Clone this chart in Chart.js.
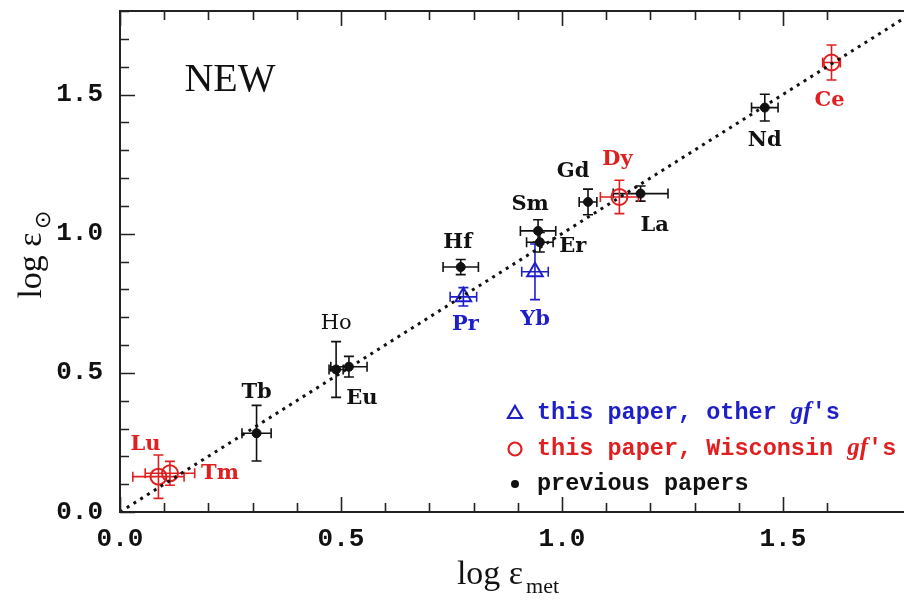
<!DOCTYPE html>
<html>
<head>
<meta charset="utf-8">
<script src="https://cdn.jsdelivr.net/npm/chart.js@4/dist/chart.umd.min.js"></script>
<style>
  html, body { margin: 0; padding: 0; background: #fff; }
  #wrap { width: 904px; height: 600px; }
</style>
</head>
<body>
<div id="wrap"><canvas id="c" width="904" height="600"></canvas></div>
<script>
// Rare-earth abundances: photospheric (log eps_sun) vs meteoritic (log eps_met)

// previous papers (black dots)
const prevNames  = ['Nd', 'La', 'Gd', 'Sm', 'Er', 'Hf', 'Ho', 'Eu', 'Tb'];
const prevMet    = [1.459, 1.178, 1.059, 0.946, 0.950, 0.771, 0.489, 0.518, 0.309];
const prevSun    = [1.453, 1.144, 1.114, 1.010, 0.969, 0.880, 0.512, 0.522, 0.283];
const prevMetErr = [0.030, 0.062, 0.020, 0.040, 0.030, 0.040, 0.016, 0.041, 0.033];
const prevSunErr = [0.048, 0.027, 0.046, 0.040, 0.035, 0.027, 0.100, 0.037, 0.100];

// this paper, Wisconsin gf's (red circles)
const wiscNames  = ['Ce', 'Dy', 'Lu', 'Tm'];
const wiscMet    = [1.610, 1.130, 0.087, 0.113];
const wiscSun    = [1.615, 1.132, 0.127, 0.139];
const wiscMetErr = [0.020, 0.043, 0.058, 0.056];
const wiscSunErr = [0.063, 0.060, 0.078, 0.043];

// this paper, other gf's (blue triangles)
const otherNames  = ['Pr', 'Yb'];
const otherMet    = [0.777, 0.939];
const otherSun    = [0.773, 0.863];
const otherMetErr = [0.030, 0.030];
const otherSunErr = [0.033, 0.100];

// one-to-one reference line
const diagMet = [0, 1.8];
const diagSun = [0, 1.8];

// axis ranges and labelled ticks
const xMin = 0, xMax = 1.774, yMin = 0, yMax = 1.8;
const tickStep = 0.1;
const majorTickLabels = ['0.0', '0.5', '1.0', '1.5'];

// element label placement (pixel offset from the marker)
const labelOffsets = {
  Nd: [0, 33], La: [14, 32], Gd: [-15, -30], Sm: [-8, -26], Er: [33, 4],
  Hf: [-3, -25], Ho: [0, -46], Eu: [13, 32], Tb: [0, -41],
  Ce: [-2, 38], Dy: [-2, -37], Lu: [-13, -32], Tm: [50, 0],
  Pr: [2, 28], Yb: [0, 48]
};

const RED = '#e02020';
const BLUE = '#1f1fc8';
const INK = '#111';

const toPts = (xs, ys) => xs.map((x, i) => ({ x: x, y: ys[i] }));

const groups = [
  { names: prevNames, met: prevMet, sun: prevSun, ex: prevMetErr, ey: prevSunErr, color: INK },
  { names: wiscNames, met: wiscMet, sun: wiscSun, ex: wiscMetErr, ey: wiscSunErr, color: RED },
  { names: otherNames, met: otherMet, sun: otherSun, ex: otherMetErr, ey: otherSunErr, color: BLUE }
];

const isMultiple = (v, step) => Math.abs(v / step - Math.round(v / step)) < 1e-6;

const tickFont = { family: 'Liberation Mono', size: 26, weight: 'bold' };

const majorLabel = v => {
  const i = Math.round(v / 0.5);
  return isMultiple(v, 0.5) && i < majorTickLabels.length ? majorTickLabels[i] : '';
};

// frame, inward ticks, error bars, labels, legend
const decor = {
  id: 'decor',
  beforeDatasetsDraw(chart) {
    const { ctx, scales: { x, y } } = chart;
    ctx.save();
    ctx.lineWidth = 1.6;
    groups.forEach(g => {
      ctx.strokeStyle = g.color;
      g.met.forEach((mv, i) => {
        const px = x.getPixelForValue(mv), py = y.getPixelForValue(g.sun[i]);
        const x0 = x.getPixelForValue(mv - g.ex[i]), x1 = x.getPixelForValue(mv + g.ex[i]);
        const y0 = y.getPixelForValue(g.sun[i] - g.ey[i]), y1 = y.getPixelForValue(g.sun[i] + g.ey[i]);
        const cap = 5;
        ctx.beginPath();
        ctx.moveTo(x0, py); ctx.lineTo(x1, py);
        ctx.moveTo(x0, py - cap); ctx.lineTo(x0, py + cap);
        ctx.moveTo(x1, py - cap); ctx.lineTo(x1, py + cap);
        ctx.moveTo(px, y0); ctx.lineTo(px, y1);
        ctx.moveTo(px - cap, y0); ctx.lineTo(px + cap, y0);
        ctx.moveTo(px - cap, y1); ctx.lineTo(px + cap, y1);
        ctx.stroke();
      });
    });
    ctx.restore();
  },
  afterDatasetsDraw(chart) {
    const { ctx, chartArea: a, scales: { x, y } } = chart;
    ctx.save();
    // frame
    ctx.strokeStyle = '#222';
    ctx.lineWidth = 2;
    ctx.beginPath();
    ctx.moveTo(a.right + 2, a.top); ctx.lineTo(a.left, a.top);
    ctx.lineTo(a.left, a.bottom); ctx.lineTo(a.right + 2, a.bottom);
    ctx.stroke();
    // ticks
    ctx.lineWidth = 1.6;
    ctx.beginPath();
    x.ticks.forEach(t => {
      if (!isMultiple(t.value, tickStep)) return;
      const px = Math.round(x.getPixelForValue(t.value)) + 0.5;
      const len = isMultiple(t.value, 0.5) ? 15 : 9;
      ctx.moveTo(px, a.bottom); ctx.lineTo(px, a.bottom - len);
      ctx.moveTo(px, a.top); ctx.lineTo(px, a.top + len);
    });
    y.ticks.forEach(t => {
      if (!isMultiple(t.value, tickStep)) return;
      const py = Math.round(y.getPixelForValue(t.value)) + 0.5;
      const len = isMultiple(t.value, 0.5) ? 15 : 9;
      ctx.moveTo(a.left, py); ctx.lineTo(a.left + len, py);
    });
    ctx.stroke();

    // element labels
    ctx.textAlign = 'center';
    ctx.textBaseline = 'middle';
    groups.forEach(g => {
      ctx.fillStyle = g.color;
      g.names.forEach((n, i) => {
        const px = x.getPixelForValue(g.met[i]), py = y.getPixelForValue(g.sun[i]);
        const off = labelOffsets[n] || [0, -30];
        ctx.font = (n === 'Ho' ? '' : 'bold ') + '21px "DejaVu Serif"';
        ctx.fillText(n, px + off[0], py + off[1]);
      });
    });

    // panel tag
    ctx.fillStyle = INK;
    ctx.font = '40px "Liberation Serif"';
    ctx.fillText('NEW', 230, 80);

    // axis titles
    ctx.textAlign = 'left';
    ctx.textBaseline = 'alphabetic';
    const drawTitle = (main, sub, cx, cy) => {
      ctx.font = '34px "Liberation Serif"';
      const w1 = ctx.measureText(main).width;
      ctx.font = '22px "Liberation Serif"';
      const w2 = ctx.measureText(sub).width;
      const x0 = cx - (w1 + w2 + 3) / 2;
      ctx.font = '34px "Liberation Serif"';
      ctx.fillText(main, x0, cy);
      ctx.font = '22px "Liberation Serif"';
      ctx.fillText(sub, x0 + w1 + 3, cy + 9);
    };
    drawTitle('log \u03B5', 'met', 508, 584);
    ctx.save();
    ctx.translate(41, 255);
    ctx.rotate(-Math.PI / 2);
    drawTitle('log \u03B5', '\u2299', 0, 0);
    ctx.restore();

    // legend
    const lx = 515, rows = [413, 449, 484];
    const monoB = 'bold 23.5px "Liberation Mono"';
    const italB = 'italic bold 25px "Liberation Serif"';
    const drawRich = (parts, x0, yy, color) => {
      ctx.fillStyle = color;
      ctx.textBaseline = 'middle';
      let cx = x0;
      parts.forEach(([txt, f]) => { ctx.font = f; ctx.fillText(txt, cx, yy); cx += ctx.measureText(txt).width; });
    };
    ctx.strokeStyle = BLUE; ctx.lineWidth = 2.2;
    ctx.beginPath();
    ctx.moveTo(lx, rows[0] - 7); ctx.lineTo(lx + 7, rows[0] + 5); ctx.lineTo(lx - 7, rows[0] + 5); ctx.closePath();
    ctx.stroke();
    drawRich([['this paper, other ', monoB], ['gf', italB], ["'s", monoB]], 537, rows[0], BLUE);
    ctx.strokeStyle = RED;
    ctx.beginPath(); ctx.arc(lx, rows[1], 6.5, 0, Math.PI * 2); ctx.stroke();
    drawRich([['this paper, Wisconsin ', monoB], ['gf', italB], ["'s", monoB]], 537, rows[1], RED);
    ctx.fillStyle = INK;
    ctx.beginPath(); ctx.arc(lx, rows[2], 4, 0, Math.PI * 2); ctx.fill();
    drawRich([['previous papers', monoB]], 537, rows[2], INK);

    ctx.restore();
  }
};

new Chart(document.getElementById('c'), {
  type: 'scatter',
  data: {
    datasets: [
      {
        label: 'one-to-one',
        data: toPts(diagMet, diagSun),
        showLine: true,
        borderColor: INK,
        borderWidth: 3,
        borderDash: [3, 5],
        pointRadius: 0,
        fill: false
      },
      {
        label: 'previous papers',
        data: toPts(prevMet, prevSun),
        pointStyle: 'circle',
        pointRadius: 4.5,
        backgroundColor: INK,
        borderColor: INK,
        borderWidth: 1
      },
      {
        label: "this paper, Wisconsin gf's",
        data: toPts(wiscMet, wiscSun),
        pointStyle: 'circle',
        pointRadius: 8,
        backgroundColor: 'rgba(0,0,0,0)',
        borderColor: RED,
        borderWidth: 2
      },
      {
        label: "this paper, other gf's",
        data: toPts(otherMet, otherSun),
        pointStyle: 'triangle',
        pointRadius: 9,
        backgroundColor: 'rgba(0,0,0,0)',
        borderColor: BLUE,
        borderWidth: 2
      }
    ]
  },
  options: {
    responsive: false,
    animation: false,
    devicePixelRatio: 1,
    layout: { autoPadding: false, padding: { top: 11, right: 0, left: 0, bottom: 0 } },
    plugins: { legend: { display: false }, tooltip: { enabled: false } },
    scales: {
      x: {
        type: 'linear', min: xMin, max: xMax,
        grid: { display: false, drawTicks: false },
        border: { display: false },
        ticks: {
          stepSize: tickStep, autoSkip: false, maxRotation: 0, padding: 12,
          color: INK, font: tickFont, callback: majorLabel
        },
        afterFit(s) { s.height = 88; s.paddingLeft = 0; s.paddingRight = 0; }
      },
      y: {
        type: 'linear', min: yMin, max: yMax,
        grid: { display: false, drawTicks: false },
        border: { display: false },
        ticks: {
          stepSize: tickStep, autoSkip: false, padding: 17,
          color: INK, font: tickFont, callback: majorLabel
        },
        afterFit(s) { s.width = 120; s.paddingTop = 0; s.paddingBottom = 0; }
      }
    }
  },
  plugins: [decor]
});
</script>
</body>
</html>
